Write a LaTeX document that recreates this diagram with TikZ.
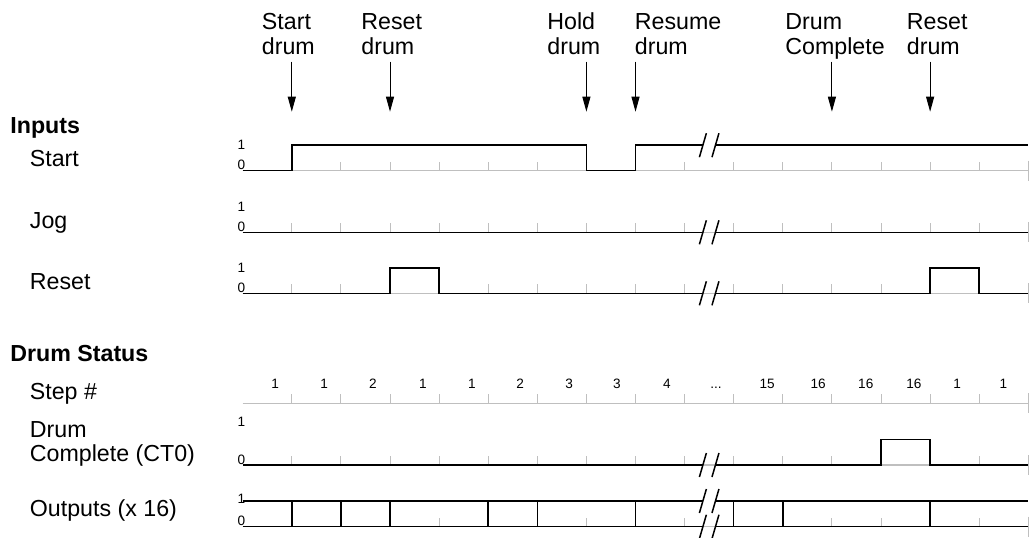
\documentclass[tikz,border=0pt]{standalone}
\usepackage{fontspec}
\setmainfont{Liberation Sans}
\usetikzlibrary{arrows.meta}

% gray time axis with tick marks at one row
\newcommand{\timeaxis}[1]{%
  \draw[gridline] (0,#1) -- (16,#1);
  \foreach \k in {1,...,15} \draw[tickmark] (\k,#1) -- ++(0,-9);
  \draw[tickmark] (16,#1-10) -- (16,#1+10);}
% break marks on a signal level
\newcommand{\sigbreak}[1]{%
  \draw[sig] (9.301,#1+12) -- (9.443,#1-12);
  \draw[sig] (9.557,#1+12) -- (9.699,#1-12);}

\begin{document}
\begin{tikzpicture}[x=24.55pt, y=-0.5pt,
  sig/.style={line width=0.75pt},
  gridline/.style={black!25, line width=0.65pt},
  tickmark/.style={black!25, line width=0.5pt},
  pointer/.style={line width=0.5pt, -{Triangle[length=7.5pt, width=4pt]}},
  event/.style={align=left, inner sep=0pt, anchor=base west,
    font=\fontsize{11.6}{12.2}\selectfont, execute at end node=\strut},
  rowlabel/.style={align=left, inner sep=0pt, anchor=base west,
    font=\fontsize{11.6}{12.2}\selectfont},
  head/.style={rowlabel, font=\fontsize{11.6}{12.2}\selectfont\bfseries},
  level/.style={inner sep=0pt, anchor=base, font=\fontsize{6.8}{8}\selectfont}]
	\useasboundingbox (-4.943,0) rectangle (16.075,537);

	% events above the chart
	\node[event] (startdrum) at (0.384,54) {Start\\drum};
	\node[event] (resetdrum) at (2.409,54) {Reset\\drum};
	\node[event] (holddrum) at (6.198,54) {Hold\\drum};
	\node[event] (resumedrum) at (7.980,54) {Resume\\drum};
	\node[event] (drumdone) at (11.045,54) {Drum\\Complete};
	\node[event] (resetagain) at (13.519,54) {Reset\\drum};
	\coordinate (t1) at (1,111.7);
	\coordinate (t2) at (3,111.7);
	\coordinate (t3) at (7,111.7);
	\coordinate (t4) at (8,111.7);
	\coordinate (t5) at (12,111.7);
	\coordinate (t6) at (14,111.7);
	\draw[pointer] (startdrum.south -| t1) -- (t1);
	\draw[pointer] (resetdrum.south -| t2) -- (t2);
	\draw[pointer] (holddrum.south -| t3) -- (t3);
	\draw[pointer] (resumedrum.south -| t4) -- (t4);
	\draw[pointer] (drumdone.south -| t5) -- (t5);
	\draw[pointer] (resetagain.south -| t6) -- (t6);

	% row names
	\node[head] (inputs) at (-4.739,133.3) {Inputs};
	\node[rowlabel] (start) at (-4.342,166) {Start};
	\node[rowlabel] (jog) at (-4.342,228.3) {Jog};
	\node[rowlabel] (reset) at (-4.342,289.3) {Reset};
	\node[head] (status) at (-4.739,361.7) {Drum Status};
	\node[rowlabel] (stepno) at (-4.342,399) {Step \#};
	\node[rowlabel] (complete) at (-4.342,461.7) {Drum\\Complete (CT0)};
	\node[rowlabel] (outputs) at (-4.342,516.7) {Outputs (x 16)};

	% 1 / 0 levels
	\node[level] (start1) at (-0.024,149.3) {1};
	\node[level] (start0) at (-0.024,169.7) {0};
	\node[level] (jog1) at (-0.024,211) {1};
	\node[level] (jog0) at (-0.024,231.3) {0};
	\node[level] (reset1) at (-0.024,272.3) {1};
	\node[level] (reset0) at (-0.024,292.3) {0};
	\node[level] (done1) at (-0.024,426.7) {1};
	\node[level] (done0) at (-0.024,464) {0};
	\node[level] (out1) at (-0.024,503.5) {1};
	\node[level] (out0) at (-0.024,525.7) {0};

	\timeaxis{170.7}
	\timeaxis{232.3}
	\timeaxis{293.3}
	\timeaxis{403.3}
	\timeaxis{465}
	\timeaxis{526.7}

	% Start
	\draw[sig] (0,170.7) -- (1,170.7) -- (1,145.2) -- (7,145.2) -- (7,170.7) -- (8,170.7) -- (8,145.2) -- (9.372,145.2);
	\draw[sig] (9.628,145.2) -- (16,145.2);
	\sigbreak{145.2}
	% Jog
	\draw[sig] (0,232.3) -- (9.372,232.3);
	\draw[sig] (9.628,232.3) -- (16,232.3);
	\sigbreak{232.3}
	% Reset
	\draw[sig] (0,293.3) -- (3,293.3) -- (3,267.8) -- (4,267.8) -- (4,293.3) -- (9.372,293.3);
	\draw[sig] (9.628,293.3) -- (14,293.3) -- (14,267.8) -- (15,267.8) -- (15,293.3) -- (16,293.3);
	\sigbreak{293.3}

	% step numbers
	\foreach \x/\n in {0.66/1,1.66/1,2.65/2,3.67/1,4.67/1,5.65/2,6.65/3,7.62/3,8.64/4,
	  10.68/15,11.72/16,12.69/16,13.67/16,14.55/1,15.49/1}
	  \node[level] (n\x) at (\x,388.3) {\n};
	\node[level] (ndots) at (9.64,388.3) {...};

	% Drum Complete
	\draw[sig] (0,465) -- (9.372,465);
	\draw[sig] (9.628,465) -- (13,465) -- (13,439.5) -- (14,439.5) -- (14,465) -- (16,465);
	\sigbreak{465}
	% Outputs
	\draw[sig] (0,501) -- (9.372,501);
	\draw[sig] (9.628,501) -- (16,501);
	\draw[sig] (0,526.7) -- (9.372,526.7);
	\draw[sig] (9.628,526.7) -- (16,526.7);
	\foreach \k in {1,2,3,5,6,8,10,11,14} \draw[sig] (\k,501) -- (\k,526.7);
	\sigbreak{501}
	\sigbreak{526.7}
\end{tikzpicture}
\end{document}
